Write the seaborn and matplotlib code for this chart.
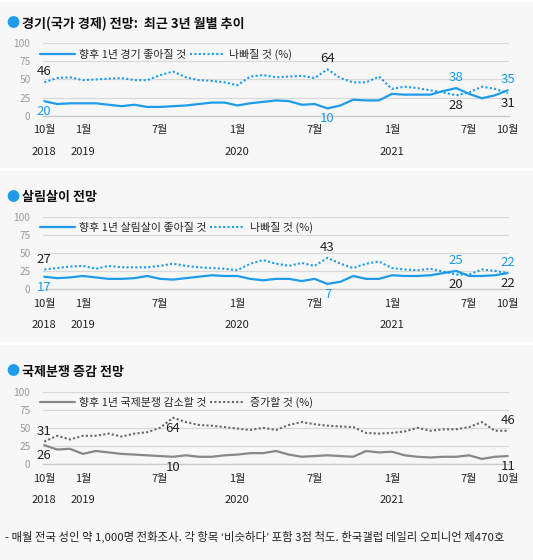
import seaborn as sns
import matplotlib.pyplot as plt
from matplotlib.patches import Rectangle
from matplotlib.transforms import blended_transform_factory

# 2018-10 .. 2021-10, monthly
months = list(range(37))
month_labels = ['10월', '', '', '1월', '', '', '', '', '', '7월', '', '', '', '', '', '1월', '', '', '',
                '', '', '7월', '', '', '', '', '', '1월', '', '', '', '', '', '7월', '', '', '10월']
year_pos = [0, 3, 15, 27]
year_text = ['2018', '2019', '2020', '2021']

econ_good = [20, 16, 17, 17, 17, 15, 13, 15, 12, 12, 13, 14, 16, 18, 18, 14, 17, 19, 21, 20,
             15, 16, 10, 14, 22, 21, 21, 30, 29, 29, 29, 34, 38, 30, 24, 28, 35]
econ_bad = [46, 52, 53, 49, 50, 51, 52, 49, 49, 56, 61, 53, 49, 48, 46, 42, 54, 56, 53, 54,
            55, 52, 64, 52, 46, 46, 54, 37, 40, 38, 35, 32, 28, 32, 40, 37, 31]

life_good = [17, 15, 16, 18, 16, 14, 14, 15, 18, 14, 13, 15, 17, 19, 18, 18, 14, 12, 14, 14,
             11, 14, 7, 10, 18, 14, 14, 19, 18, 18, 19, 22, 25, 18, 18, 19, 22]
life_bad = [27, 29, 31, 32, 28, 32, 30, 30, 30, 32, 35, 32, 30, 29, 28, 26, 35, 40, 35, 32,
            36, 32, 43, 35, 29, 35, 38, 29, 27, 26, 28, 24, 20, 20, 27, 25, 22]

conf_down = [26, 20, 21, 14, 18, 16, 14, 13, 12, 11, 10, 12, 10, 10, 12, 13, 15, 15, 18, 13,
             10, 11, 12, 11, 10, 18, 16, 17, 12, 10, 9, 10, 10, 12, 7, 10, 11]
conf_up = [31, 39, 34, 39, 39, 42, 38, 42, 44, 50, 64, 58, 54, 53, 51, 49, 47, 50, 47, 54,
           58, 55, 53, 52, 51, 43, 42, 43, 45, 50, 46, 48, 48, 51, 58, 46, 46]

BLUE = '#1e9be9'
DARK = '#222222'

panels = [
    dict(top=43.3, title_y=24, title='경기(국가 경제) 전망:  최근 3년 월별 추이',
         a=econ_good, b=econ_bad, a_lab='향후 1년 경기 좋아질 것', b_lab='나빠질 것 (%)',
         ca=BLUE, cb=BLUE, ta=BLUE, tb=DARK,
         ann=[(0, 'b', 1), (0, 'a', -1), (22, 'b', 1), (22, 'a', -1),
              (32, 'a', 1), (32, 'b', -1), (36, 'a', 1), (36, 'b', -1)]),
    dict(top=216.7, title_y=197, title='살림살이 전망',
         a=life_good, b=life_bad, a_lab='향후 1년 살림살이 좋아질 것', b_lab='나빠질 것 (%)',
         ca=BLUE, cb=BLUE, ta=BLUE, tb=DARK,
         ann=[(0, 'b', 1), (0, 'a', -1), (22, 'b', 1), (22, 'a', -1),
              (32, 'a', 1), (32, 'b', -1), (36, 'a', 1), (36, 'b', -1)]),
    dict(top=391.7, title_y=372, title='국제분쟁 증감 전망',
         a=conf_down, b=conf_up, a_lab='향후 1년 국제분쟁 감소할 것', b_lab='증가할 것 (%)',
         ca='#888888', cb='#666666', ta=DARK, tb=DARK,
         ann=[(0, 'b', 1), (0, 'a', -1), (10, 'b', -1), (10, 'a', -1),
              (36, 'b', 1), (36, 'a', -1)]),
]

sns.set_style("white")
plt.rcParams['font.family'] = ['Noto Sans CJK KR', 'DejaVu Sans']

W, H = 533, 560
fig = plt.figure(figsize=(W / 100, H / 100), dpi=100)
fig.patch.set_facecolor('white')

# gray panel backgrounds with thin white gaps
for y0, y1 in [(2, 168), (171, 342), (345, 560)]:
    fig.patches.append(Rectangle((0, 1 - y1 / H), 1, (y1 - y0) / H, transform=fig.transFigure,
                                 facecolor='#f7f7f7', edgecolor='none', zorder=-10))

ax_h = 72.3
for p in panels:
    bottom = 1 - (p['top'] + ax_h) / H
    ax = fig.add_axes([43 / W, bottom, (509 - 43) / W, ax_h / H])
    ax.set_facecolor('none')

    sns.lineplot(x=months, y=p['a'], ax=ax, color=p['ca'], lw=1.6, label=p['a_lab'])
    sns.lineplot(x=months, y=p['b'], ax=ax, color=p['cb'], lw=1.5,
                 linestyle=(0, (1, 1.1)), label=p['b_lab'])

    ax.set_xlim(-0.1, 36.1)
    ax.set_ylim(0, 100)
    ax.set_yticks([0, 25, 50, 75, 100])
    ax.yaxis.grid(True, color='#d9d9d9', lw=0.9)
    ax.set_axisbelow(True)
    for s in ['top', 'right', 'left']:
        ax.spines[s].set_visible(False)
    ax.spines['bottom'].set_color('#cccccc')
    ax.spines['bottom'].set_linewidth(1)
    ax.tick_params(axis='y', length=0, pad=9, labelsize=7.3, labelcolor='#999999')
    ax.set_xticks(months)
    ax.set_xticklabels(month_labels, fontsize=8, color=DARK)
    ax.tick_params(axis='x', length=3, width=0.8, color='#cccccc', pad=4)
    ax.set_xlabel('')
    ax.set_ylabel('')

    trans = blended_transform_factory(ax.transData, ax.transAxes)
    for xp, yt in zip(year_pos, year_text):
        ax.text(xp, -36 / ax_h, yt, transform=trans, ha='center', va='center',
                fontsize=8, color=DARK)

    ax.legend(loc='center left', bbox_to_anchor=(-0.007, 0.85), ncol=2, frameon=False,
              fontsize=7.9, handlelength=3.2, handletextpad=0.4, columnspacing=0.3,
              borderpad=0, borderaxespad=0)

    for m, which, d in p['ann']:
        vals = p['a'] if which == 'a' else p['b']
        col = p['ta'] if which == 'a' else p['tb']
        ax.annotate(str(vals[m]), (m, vals[m]), xytext=(0, 7.5 * d), textcoords='offset points',
                    ha='center', va='center', fontsize=9.5, color=col, annotation_clip=False)

    ty = 1 - p['title_y'] / H
    fig.text(6 / W, ty, '●', color=BLUE, fontsize=9.5, va='center', ha='left')
    fig.text(22 / W, ty, p['title'], fontsize=9.4, fontweight='bold', va='center', ha='left',
             color='#111111')

fig.text(5 / W, 1 - 537 / H,
         '- 매월 전국 성인 약 1,000명 전화조사. 각 항목 ‘비슷하다’ 포함 3점 척도. 한국갤럽 데일리 오피니언 제470호',
         fontsize=8.2, va='center', ha='left', color=DARK)

fig.savefig('out.png', dpi=100, facecolor=fig.get_facecolor())
